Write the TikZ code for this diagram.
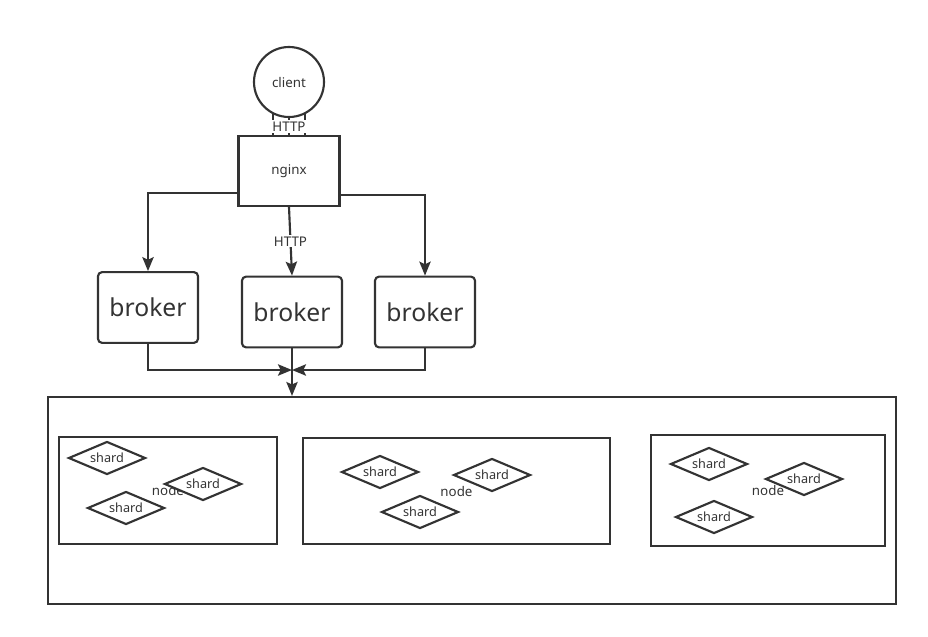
\documentclass[tikz,border=0pt]{standalone}
\usepackage{fontspec}
\setmainfont{Noto Sans}
\usetikzlibrary{shapes.geometric,arrows.meta}
\definecolor{ink}{HTML}{333333}

\begin{document}
\begin{tikzpicture}[x=0.75pt,y=0.75pt,yscale=-1,xscale=1,
    txt/.style={text=ink, font=\fontsize{10}{12}\selectfont},
    box/.style={txt, draw=ink, line width=1.6pt, rectangle, inner sep=0pt},
    brokerbox/.style={box, rounded corners=3pt, minimum width=75pt, minimum height=53pt, font=\fontsize{18.5}{22}\selectfont},
    shard/.style={txt, draw=ink, line width=1.6pt, diamond, fill=white, aspect=2.3, inner sep=0.5pt,
        minimum width=57.75pt, minimum height=24.75pt, font=\fontsize{9.5}{11}\selectfont},
    lbl/.style={txt, fill=white, inner sep=1pt},
    wire/.style={draw=ink, line width=1.6pt},
    arrow/.style={wire, -{Stealth[length=10.5pt,width=8.5pt,inset=2pt]}}]

            \useasboundingbox (0,0) rectangle (928,636);

            % Client and nginx
            \draw (289,82) node [txt, circle, draw=ink, line width=1.6pt, minimum size=52.5pt, inner sep=0pt] (client) {client};
            \draw (289,171) node [box, minimum width=75.75pt, minimum height=52.5pt] (nginx) {nginx};
            \draw [wire] (client.-117) -- (client.-117 |- nginx.north);
            \draw [wire] (client.-63) -- (client.-63 |- nginx.north);
            \draw [wire] (client.south) -- node [lbl] (http1) {HTTP} (nginx.north);

            % Brokers
            \draw (148,307.5) node [brokerbox] (b1) {broker};
            \draw (292,312) node [brokerbox] (b2) {broker};
            \draw (425,312) node [brokerbox] (b3) {broker};

            \draw [arrow] ([yshift=16.5pt]nginx.west) -| (b1.north);
            \draw [arrow] ([yshift=18pt]nginx.east) -| (b3.north);
            \draw [arrow] (nginx.south) -- node [lbl] (http2) {HTTP} (b2.north);

            % Cluster
            \draw (472,500.5) node [box, minimum width=636pt, minimum height=155.25pt] (cluster) {};
            \coordinate (join) at (292,370);
            \draw [arrow] (b1.south) |- (join);
            \draw [arrow] (b3.south) |- (join);
            \draw [arrow] (b2.south) -- (b2.south |- cluster.north);

            % Storage nodes
            \draw (168,490.5) node [box, minimum width=163.5pt, minimum height=80.25pt] (n1) {node};
            \draw (456.5,491) node [box, minimum width=230.25pt, minimum height=79.5pt] (n2) {node};
            \draw (768,490.5) node [box, minimum width=175.5pt, minimum height=83.25pt] (n3) {node};

            % Shards
            \foreach \sx/\sy [count=\i] in {107/458, 203/484, 126/508, 380/472, 492/475, 420/512, 709/464, 804/479, 714/517}
                \draw (\sx,\sy) node [shard] (shard\i) {shard};

            \end{tikzpicture}
\end{document}
